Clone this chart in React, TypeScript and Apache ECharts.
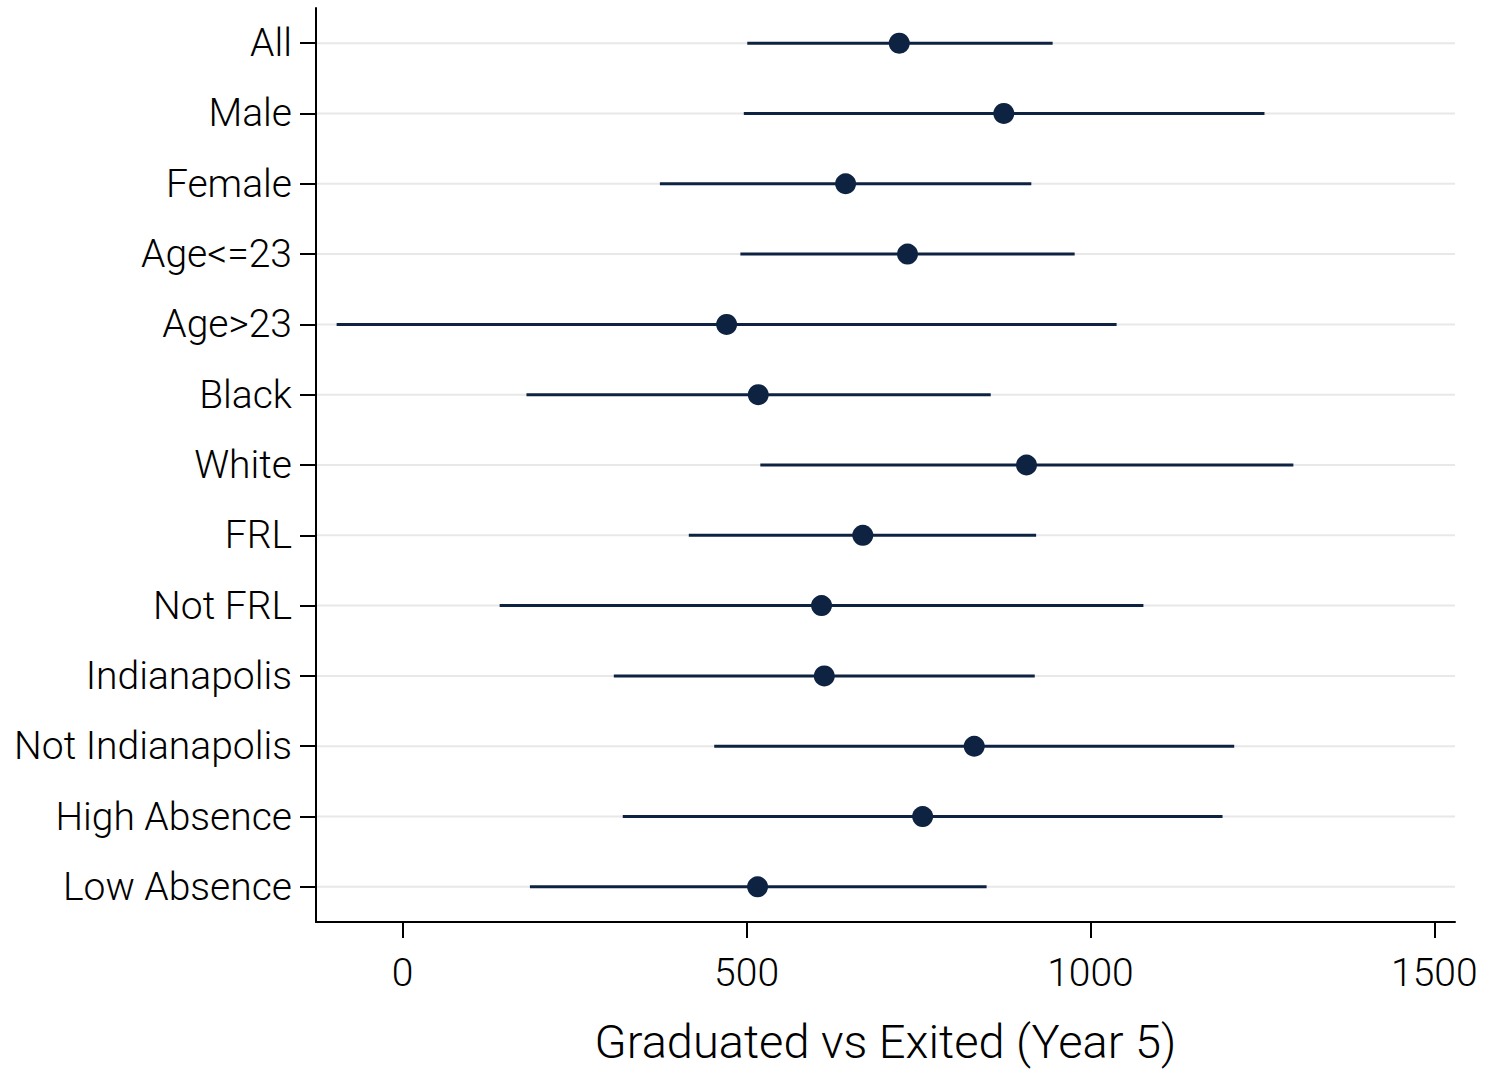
import React, { useEffect, useRef } from "react";
import * as echarts from "echarts";

const categories = [
  "All", "Male", "Female", "Age<=23", "Age>23", "Black", "White", "FRL",
  "Not FRL", "Indianapolis", "Not Indianapolis", "High Absence", "Low Absence",
];
const estimates = [722, 874, 644, 734, 471, 517, 907, 669, 609, 613, 831, 756, 516];
const lowers = [501, 496, 374, 491, -96, 180, 520, 416, 141, 307, 453, 320, 185];
const uppers = [945, 1253, 914, 977, 1038, 855, 1295, 921, 1077, 919, 1209, 1192, 849];
const xTicks = [0, 500, 1000, 1500];
const xTitle = "Graduated vs Exited (Year 5)";

const NAVY = "#0e2341";
const FONT = "Roboto";

export default function App() {
  const ref = useRef<HTMLDivElement>(null);
  useEffect(() => {
    document.body.style.margin = "0";
    const chart = echarts.init(ref.current!, null, { renderer: "svg" });
    chart.setOption({
      animation: false,
      backgroundColor: "#ffffff",
      grid: { left: 316, right: 31, top: 8, bottom: 139, containLabel: false },
      xAxis: {
        type: "value",
        min: -126,
        max: 1530,
        splitLine: { show: false },
        axisLine: { show: true, onZero: false, lineStyle: { color: "#000", width: 2 } },
        axisTick: { show: true, length: 16, lineStyle: { color: "#000", width: 2 }, customValues: xTicks },
        axisLabel: {
          margin: 31,
          fontSize: 39,
          fontFamily: FONT,
          fontWeight: 300,
          color: "#000",
          customValues: xTicks,
          formatter: (v: number) => String(v),
        },
        name: xTitle,
        nameLocation: "middle",
        nameGap: 96,
        nameTextStyle: { fontSize: 47, fontFamily: FONT, fontWeight: 300, color: "#000" },
      },
      yAxis: {
        type: "category",
        data: categories,
        inverse: true,
        boundaryGap: true,
        axisLine: { show: true, onZero: false, lineStyle: { color: "#000", width: 2 } },
        axisTick: { show: true, length: 16, alignWithLabel: true, lineStyle: { color: "#000", width: 2 } },
        axisLabel: { margin: 24, fontSize: 39, fontFamily: FONT, fontWeight: 300, color: "#000" },
        splitLine: { show: false },
      },
      series: [
        {
          type: "custom",
          z: 1,
          silent: true,
          data: categories.map((_, i) => [0, i]),
          encode: { x: 0, y: 1 },
          renderItem: (params: any, api: any) => {
            const y = api.coord([0, api.value(1)])[1];
            const cs = params.coordSys;
            return {
              type: "line",
              shape: { x1: cs.x + 1, y1: y, x2: cs.x + cs.width, y2: y },
              style: { stroke: "#e8e8e8", lineWidth: 2 },
            };
          },
        },
        {
          type: "custom",
          z: 2,
          data: categories.map((_, i) => [lowers[i], uppers[i], i]),
          encode: { x: [0, 1], y: 2 },
          renderItem: (params: any, api: any) => {
            const p1 = api.coord([api.value(0), api.value(2)]);
            const p2 = api.coord([api.value(1), api.value(2)]);
            return {
              type: "line",
              shape: { x1: p1[0], y1: p1[1], x2: p2[0], y2: p2[1] },
              style: { stroke: NAVY, lineWidth: 3 },
            };
          },
        },
        {
          type: "scatter",
          z: 3,
          symbol: "circle",
          symbolSize: 21,
          itemStyle: { color: NAVY, opacity: 1 },
          data: categories.map((_, i) => [estimates[i], i]),
        },
      ],
    });
    return () => chart.dispose();
  }, []);
  return <div ref={ref} style={{ width: 1486, height: 1070 }} />;
}
